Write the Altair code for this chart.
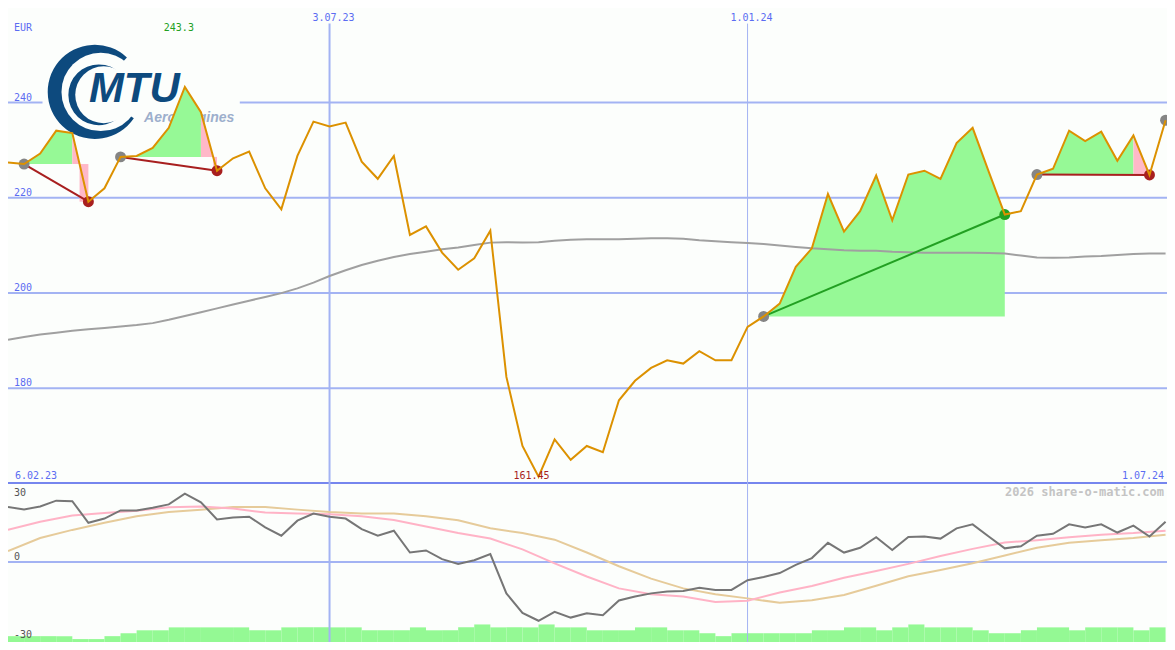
import math
import altair as alt
import pandas as pd

# ---------------- layout helpers (reference is 1175x650, page margin 8px) -------------
W, H = 1159, 634
SX, SY = W / 1175, H / 650
SR = (SX + SY) / 2


def X(v):
    return round(v * SX, 2)


def Y(v):
    return round(v * SY, 2)


BG = "#fcfefc"
LBL_BLUE = "#5b6cf2"
GRID = "#a3b3f3"
BORDER = "#7686ee"
PRICE_COL = "#dc9100"
MA_COL = "#a0a0a0"
GREEN_FILL = "#96f996"
PINK_FILL = "#ffb8c8"
RED = "#a81f1f"
GREEN_DOT = "#22a022"
GRAY_DOT = "#858585"
MOM_COL = "#767676"
PINK_LINE = "#ffb3c6"
TAN_LINE = "#e6cb9a"
VOL_COL = "#94f994"
LOGO_BLUE = "#0d4a7e"
LOGO_GREY = "#9dafcc"

# ---------------- data ---------------------------------------------------------------
weeks = pd.date_range("2023-02-13", periods=73, freq="7D")

price = [227.4, 227.1, 229.3, 234.1, 233.6, 219.2, 222.0, 228.6, 228.8, 230.5,
         234.7, 243.3, 238.0, 225.7, 228.3, 229.7, 222.0, 217.6, 228.8, 236.0,
         235.0, 235.8, 227.6, 224.0, 228.8, 212.2, 214.0, 208.5, 204.9, 207.3,
         213.1, 182.4, 167.9, 161.45, 169.3, 165.0, 167.9, 166.6, 177.5, 181.6,
         184.3, 185.9, 185.2, 187.8, 185.9, 185.9, 192.9, 195.1, 197.8, 205.5,
         209.4, 220.8, 212.9, 217.2, 224.7, 215.3, 224.9, 225.7, 224.0, 231.5,
         234.7, 225.5, 216.5, 217.2, 224.9, 226.1, 234.1, 231.9, 233.9, 227.8,
         233.1, 224.8, 236.3]

ma200 = [190.2, 190.8, 191.3, 191.7, 192.1, 192.4, 192.7, 193.0, 193.3, 193.7,
         194.4, 195.2, 196.0, 196.8, 197.6, 198.4, 199.2, 200.0, 201.0, 202.2,
         203.6, 204.8, 205.9, 206.8, 207.6, 208.2, 208.7, 209.2, 209.6, 210.1,
         210.6, 210.7, 210.6, 210.7, 211.0, 211.2, 211.3, 211.3, 211.3, 211.4,
         211.5, 211.5, 211.4, 211.1, 210.9, 210.7, 210.5, 210.3, 210.0, 209.7,
         209.4, 209.2, 209.0, 208.9, 208.9, 208.7, 208.6, 208.5, 208.5, 208.5,
         208.5, 208.4, 208.3, 207.9, 207.5, 207.4, 207.5, 207.7, 207.8, 208.0,
         208.2, 208.3, 208.3]

momentum = [20.9, 20.0, 21.1, 23.3, 23.1, 14.9, 16.5, 19.6, 19.6, 20.6,
            21.9, 26.0, 22.7, 16.2, 16.9, 17.2, 13.2, 10.0, 15.7, 18.4,
            17.2, 16.5, 12.5, 10.0, 11.9, 3.6, 4.4, 1.1, -0.7, 0.7,
            3.0, -11.9, -19.3, -22.3, -18.9, -21.1, -19.5, -20.2, -14.6, -13.1,
            -11.9, -11.2, -11.0, -9.8, -10.6, -10.6, -6.9, -5.7, -4.2, -1.1,
            1.5, 7.3, 3.6, 5.4, 9.4, 4.6, 9.5, 9.7, 8.9, 12.8,
            14.3, 9.7, 5.2, 6.0, 10.0, 10.7, 14.3, 13.1, 14.3, 11.2,
            13.8, 9.7, 15.3]

# smooth signal lines, read every second week
signal_pink = [12.2, 15.3, 17.7, 18.6, 19.5, 20.8, 21.1, 20.3, 18.8, 18.4,
               18.1, 17.4, 16.0, 13.5, 11.0, 8.9, 4.8, -0.5, -5.5, -10.0,
               -12.2, -13.1, -15.2, -14.7, -11.6, -9.1, -6.0, -3.4, -0.7, 2.3,
               5.0, 7.4, 8.3, 9.4, 10.4, 11.0, 11.9]
signal_tan = [4.2, 9.1, 12.2, 14.9, 17.4, 19.0, 19.9, 20.9, 20.9, 19.9,
              19.0, 18.4, 18.4, 17.4, 15.9, 12.8, 11.0, 8.5, 3.6, -1.6,
              -6.3, -10.0, -12.2, -13.8, -15.5, -14.5, -12.5, -9.0, -5.4, -3.0,
              -0.5, 2.5, 5.4, 7.3, 8.3, 9.1, 10.4]

# weekly volume level (one bar per week interval)
volume = [2, 2, 2, 2, 1, 1, 2, 3, 4, 4,
          5, 5, 5, 5, 5, 4, 4, 5, 5, 5,
          5, 5, 4, 4, 4, 5, 4, 4, 5, 6,
          5, 5, 5, 6, 5, 5, 4, 4, 4, 5,
          5, 4, 4, 3, 2, 3, 3, 3, 3, 3,
          4, 4, 5, 5, 4, 5, 6, 5, 5, 5,
          4, 3, 3, 4, 5, 5, 4, 5, 5, 5,
          4, 5]

entry_idx = [1, 7, 47, 64, 72]
trades = [(1, 5, "loss"), (7, 13, "loss"), (47, 62, "win"), (64, 71, "loss")]

price_levels = [240, 220, 200, 180]
price_level_labels = ["240", "220", "200", "180"]
osc_labels = ["30", "0", "-30"]
osc_label_y = [500, 566, 646]
marker_dates = [pd.Timestamp("2023-07-03"), pd.Timestamp("2024-01-01")]
marker_labels = ["3.07.23", "1.01.24"]
marker_widths = [2, 1]
start_label, end_label = "6.02.23", "1.07.24"

# ---------------- scales ---------------------------------------------------------------
xs = alt.Scale(domain=[alt.DateTime(year=2023, month=2, date=13),
                       alt.DateTime(year=2024, month=7, date=1, hours=15)], nice=False)
ps = alt.Scale(domain=[126.75, 259.86], nice=False, zero=False)   # price, full height
ls = alt.Scale(domain=[-30.37, 210.4], nice=False, zero=False)    # oscillator
vs = alt.Scale(domain=[0, 216.7], nice=False, zero=False)          # volume

XD = alt.X("d:T", scale=xs, axis=None)

main = pd.DataFrame({"d": weeks, "price": price, "ma": ma200, "mom": momentum})
smooth = pd.DataFrame({"d": weeks[::2], "pk": signal_pink, "tn": signal_tan})
vol_df = pd.DataFrame({"d": weeks[:-1], "d2": weeks[1:], "vol": volume})

green_rows, pink_rows, pink_rects, tlines, dots = [], [], [], [], []
for k, (a, b, kind) in enumerate(trades):
    base = price[a]
    last = b if kind == "win" else b - 1
    for i in range(a, last + 1):
        green_rows.append({"t": k, "d": weeks[i], "p": price[i], "b": base})
    if kind != "win":
        p0, p1 = price[b - 1], price[b]
        f = (p0 - base) / (p0 - p1)
        dc = weeks[b - 1] + pd.Timedelta(days=7 * f)
        pink_rows += [{"t": k, "d": weeks[b - 1], "p": p0, "b": base},
                      {"t": k, "d": dc, "p": base, "b": base}]
        pink_rects.append({"d": dc, "d2": weeks[b], "b": base, "p": p1})
    col = GREEN_DOT if kind == "win" else RED
    tlines += [{"t": k, "d": weeks[a], "p": base, "c": col},
               {"t": k, "d": weeks[b], "p": price[b], "c": col}]
    dots.append({"d": weeks[b], "p": price[b], "c": col})
for a in entry_idx:
    dots.append({"d": weeks[a], "p": price[a], "c": GRAY_DOT})

green_df = pd.DataFrame(green_rows)
pink_df = pd.DataFrame(pink_rows)
pinkr_df = pd.DataFrame(pink_rects)
tline_df = pd.DataFrame(tlines)
dot_df = pd.DataFrame(dots)

one = pd.DataFrame({"k": [0]})
layers = []

# ---------------- grid ------------------------------------------------------------------
layers.append(alt.Chart(pd.DataFrame({"lv": price_levels})).mark_rule(
    color=GRID, strokeWidth=2).encode(
    y=alt.Y("lv:Q", scale=ps, axis=None), x=alt.value(0), x2=alt.value(W)))
layers.append(alt.Chart(pd.DataFrame({"lv": [30, 0], "c": [BORDER, GRID]})).mark_rule(
    strokeWidth=2).encode(
    y=alt.Y("lv:Q", scale=ls, axis=None), x=alt.value(0), x2=alt.value(W),
    color=alt.Color("c:N", scale=None)))

# volume bars
layers.append(alt.Chart(vol_df).mark_rect(color=VOL_COL).encode(
    x=XD, x2="d2:T", y=alt.Y("vol:Q", scale=vs, axis=None), y2=alt.datum(0)))

# vertical date markers
layers.append(alt.Chart(pd.DataFrame({"d": marker_dates, "w": marker_widths})).mark_rule(
    color=GRID).encode(
    x=XD, y=alt.value(Y(16)), y2=alt.value(H),
    strokeWidth=alt.StrokeWidth("w:Q", scale=None)))

# ---------------- logo --------------------------------------------------------------------
layers.append(alt.Chart(one).mark_rect(color=BG).encode(
    x=alt.value(X(35)), x2=alt.value(X(235)), y=alt.value(Y(36)), y2=alt.value(Y(134))))


def arc(cx, cy, r, t0, t1, color):
    return alt.Chart(one).mark_arc(
        radius=round(r * SR, 2), theta=math.radians(t0), theta2=math.radians(t1),
        color=color, stroke=None).encode(x=alt.value(X(cx)), y=alt.value(Y(cy)))


layers += [arc(88, 86, 48, 124, 403, LOGO_BLUE), arc(94, 86, 40, 0, 360, BG),
           arc(92, 89, 31, 120, 395, LOGO_BLUE), arc(97, 89, 29, 0, 360, BG)]
layers.append(alt.Chart(one).mark_text(
    text="MTU", font="Liberation Sans", fontSize=42, fontStyle="italic", fontWeight="bold",
    color=LOGO_BLUE, align="left", baseline="alphabetic").encode(
    x=alt.value(X(82)), y=alt.value(Y(96))))
layers.append(alt.Chart(one).mark_text(
    text="Aero Engines", font="Liberation Sans", fontSize=14, fontStyle="italic",
    fontWeight="bold", color=LOGO_GREY, align="left", baseline="alphabetic").encode(
    x=alt.value(X(138)), y=alt.value(Y(117))))

# ---------------- trade fills -------------------------------------------------------------
layers.append(alt.Chart(green_df).mark_area(color=GREEN_FILL, opacity=1).encode(
    x=XD, y=alt.Y("p:Q", scale=ps, axis=None), y2="b:Q", detail="t:N"))
layers.append(alt.Chart(pink_df).mark_area(color=PINK_FILL, opacity=1).encode(
    x=XD, y=alt.Y("p:Q", scale=ps, axis=None), y2="b:Q", detail="t:N"))
layers.append(alt.Chart(pinkr_df).mark_rect(color=PINK_FILL).encode(
    x=XD, x2="d2:T", y=alt.Y("b:Q", scale=ps, axis=None), y2="p:Q"))

# moving average
layers.append(alt.Chart(main).mark_line(color=MA_COL, strokeWidth=2).encode(
    x=XD, y=alt.Y("ma:Q", scale=ps, axis=None)))

# trade lines
layers.append(alt.Chart(tline_df).mark_line(strokeWidth=2).encode(
    x=XD, y=alt.Y("p:Q", scale=ps, axis=None), detail="t:N",
    color=alt.Color("c:N", scale=None)))

# dots
layers.append(alt.Chart(dot_df).mark_circle(size=120, opacity=1).encode(
    x=XD, y=alt.Y("p:Q", scale=ps, axis=None), color=alt.Color("c:N", scale=None)))

# price line
layers.append(alt.Chart(main).mark_line(color=PRICE_COL, strokeWidth=2).encode(
    x=XD, y=alt.Y("price:Q", scale=ps, axis=None)))

# ---------------- oscillator panel ---------------------------------------------------------
layers.append(alt.Chart(smooth).mark_line(color=TAN_LINE, strokeWidth=2).encode(
    x=XD, y=alt.Y("tn:Q", scale=ls, axis=None)))
layers.append(alt.Chart(smooth).mark_line(color=PINK_LINE, strokeWidth=2).encode(
    x=XD, y=alt.Y("pk:Q", scale=ls, axis=None)))
layers.append(alt.Chart(main).mark_line(color=MOM_COL, strokeWidth=2).encode(
    x=XD, y=alt.Y("mom:Q", scale=ls, axis=None)))

# ---------------- texts ------------------------------------------------------------------
TF = dict(font="DejaVu Sans Mono", fontSize=10, baseline="alphabetic")

layers.append(alt.Chart(one).mark_text(text="EUR", align="left", color=LBL_BLUE, **TF).encode(
    x=alt.value(X(6)), y=alt.value(Y(24))))
layers.append(alt.Chart(pd.DataFrame({"lv": price_levels, "t": price_level_labels})).mark_text(
    align="left", color=LBL_BLUE, dy=-2, **TF).encode(
    x=alt.value(X(6)), y=alt.Y("lv:Q", scale=ps, axis=None), text="t:N"))

imax = price.index(max(price))
imin = price.index(min(price))
layers.append(alt.Chart(pd.DataFrame({"d": [weeks[imax]], "t": [f"{max(price):.1f}"]})).mark_text(
    align="center", color=GREEN_DOT, dx=-6, **TF).encode(
    x=XD, y=alt.value(Y(24)), text="t:N"))
layers.append(alt.Chart(pd.DataFrame({"d": [weeks[imin]], "t": [f"{min(price):.2f}"]})).mark_text(
    align="center", color=RED, dx=-7, **TF).encode(
    x=XD, y=alt.value(Y(483)), text="t:N"))
layers.append(alt.Chart(pd.DataFrame({"d": marker_dates, "t": marker_labels})).mark_text(
    align="center", color=LBL_BLUE, dx=4, **TF).encode(
    x=XD, y=alt.value(Y(13)), text="t:N"))
layers.append(alt.Chart(one).mark_text(text=start_label, align="left", color=LBL_BLUE, **TF).encode(
    x=alt.value(X(7)), y=alt.value(Y(483))))
layers.append(alt.Chart(one).mark_text(text=end_label, align="right", color=LBL_BLUE, **TF).encode(
    x=alt.value(X(1172)), y=alt.value(Y(483))))
layers.append(alt.Chart(pd.DataFrame({"t": osc_labels, "yy": [Y(v) for v in osc_label_y]})).mark_text(
    align="left", color="#555555", **TF).encode(
    x=alt.value(X(6)), y=alt.Y("yy:Q", scale=None), text="t:N"))
layers.append(alt.Chart(one).mark_text(
    text="2026 share-o-matic.com", align="right", baseline="alphabetic",
    font="DejaVu Sans Mono", fontSize=12, fontWeight="bold", color="#c4c4c4").encode(
    x=alt.value(X(1172)), y=alt.value(Y(500))))

chart = alt.layer(*layers).resolve_scale(y="independent").properties(
    width=W, height=H, padding=0, background=BG,
    autosize=alt.AutoSizeParams(type="none")
).configure_view(stroke=None)

chart.save("out.html", embed_options={"renderer": "svg", "actions": False})
